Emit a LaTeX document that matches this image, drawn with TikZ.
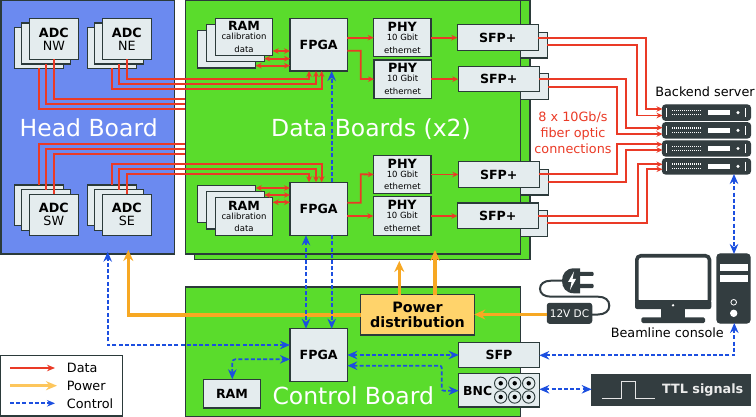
\documentclass[tikz,border=0pt]{standalone}
\usepackage{fontspec}
\setmainfont{DejaVu Sans}
\usepackage{tikz}
\usetikzlibrary{calc}
\usetikzlibrary{arrows.meta}
\definecolor{headblue}{HTML}{6B8AF0}
\definecolor{boardgreen}{HTML}{5ADC2C}
\definecolor{edgedark}{HTML}{2B3A3A}
\definecolor{blockgrey}{HTML}{E4ECEE}
\definecolor{icondark}{HTML}{333D40}
\definecolor{datared}{HTML}{EA3A26}
\definecolor{powerorange}{HTML}{F7A823}
\definecolor{powerpale}{HTML}{FDC65C}
\definecolor{ctrlblue}{HTML}{1C4FE0}
\definecolor{powerbox}{HTML}{FFD36B}
\newcommand{\fnt}[2]{\fontsize{#1}{#2}\selectfont}
\tikzset{
  block/.style={draw=edgedark,fill=blockgrey,line width=1.1pt,inner sep=0pt,outer sep=0pt,align=center},
  headboard/.style={block,fill=headblue},
  greenboard/.style={block,fill=boardgreen},
  powerblock/.style={block,fill=powerbox},
  darkblock/.style={block,draw=icondark,fill=icondark,rounded corners=2.5pt,text=white},
  serverblock/.style={block,draw=icondark,fill=icondark,rounded corners=3pt},
  bigtext/.style={text=white,font=\fnt{23.5}{26}},
  plaintext/.style={font=\fnt{12.8}{16},inner sep=0pt},
  datalink/.style={draw=datared,line width=1.8pt,-{Stealth[length=6pt,width=5.5pt]}},
  databoth/.style={datalink,{Stealth[length=6pt,width=5.5pt]}-{Stealth[length=6pt,width=5.5pt]}},
  dataplain/.style={draw=datared,line width=1.8pt},
  powerlink/.style={draw=powerorange,line width=3.2pt,-{Stealth[length=11pt,width=10pt]}},
  ctrllink/.style={draw=ctrlblue,line width=1.7pt,dash pattern=on 4pt off 2.2pt,{Stealth[length=10pt,width=8.5pt]}-{Stealth[length=10pt,width=8.5pt]}},
  ctrlone/.style={draw=ctrlblue,line width=1.7pt,dash pattern=on 4pt off 2.2pt,-{Stealth[length=10pt,width=8.5pt]}}
}
% box given by its corners: [style]{name}{x1}{y1}{x2}{y2}{text}
\newcommand{\blocknode}[7][block]{\node[#1,minimum width={(#5-#3)*1pt},minimum height={(#6-#4)*1pt}] (#2) at ({(#3+#5)/2},{(#4+#6)/2}) {#7};}
\newcommand{\adctext}[1]{\fnt{12.7}{17}\textbf{ADC}\\[1pt]\fnt{12.7}{17}#1}
\newcommand{\ramtext}{\fnt{12.6}{10.5}\textbf{RAM}\\[-3pt]\fnt{8.5}{10.7}calibration\\[0.5pt]\fnt{8.5}{10.7}data}
\newcommand{\phytext}{\fnt{12.7}{10.5}\textbf{PHY}\\[-3pt]\fnt{8.5}{10.7}10 Gbit\\[0.5pt]\fnt{8.5}{10.7}ethernet}
\newcommand{\boldtext}[1]{\fnt{12.6}{15}\textbf{#1}}
% one rack unit: {name}{y1}{y2}
\newcommand{\serverunit}[3]{
  \blocknode[serverblock]{#1}{662.5}{#2}{750.5}{#3}{}
  \draw[white,line width=1.2pt] (666.8,{#2+3}) -- (666.8,{#3-3});
  \draw[white,line width=1.3pt,dash pattern=on 1pt off 1pt] (672,{(#2+#3)/2-2.2}) -- (702,{(#2+#3)/2-2.2});
  \draw[white,line width=1.3pt,dash pattern=on 1pt off 1pt] (672,{(#2+#3)/2+2.2}) -- (702,{(#2+#3)/2+2.2});
  \fill[white] (707.7,{(#2+#3)/2-2.6}) rectangle (730,{(#2+#3)/2+2.6});
  \fill[white] (738,{(#2+#3)/2}) circle (1.7pt);
  \draw[white,line width=1.2pt] (745.8,{#2+3}) -- (745.8,{#3-3});
}
\newcommand{\bncjack}[2]{
  \draw[edgedark,line width=0.9pt] (#1,#2) circle (6.2pt);
  \fill[black] (#1,#2) circle (2.2pt);
}

\begin{document}
\begin{tikzpicture}[x=1pt,y=-1pt]
    \useasboundingbox (0,0) rectangle (756,417);

    %boards
    \blocknode[greenboard]{databack}{194.7}{0.5}{530}{259.3}{}
    \blocknode{sfpbacka}{466}{32.7}{547.3}{58}{}
    \blocknode{sfpbackb}{467}{73.7}{548.3}{99.3}{}
    \blocknode{sfpbackc}{467}{169.3}{548.3}{195}{}
    \blocknode{sfpbackd}{466}{210.3}{547.3}{236.3}{}
    \blocknode[greenboard]{databoard}{185.3}{0.5}{520.7}{254}{}
    \blocknode[headboard]{headboard}{1}{0.5}{174.5}{254}{}
    \blocknode[greenboard]{ctrlboard}{185.3}{287}{520.7}{416.3}{}
    \node[bigtext] (headlabel) at (88.7,128) {Head Board};
    \node[bigtext] (datalabel) at (371,129) {Data Boards (x2)};
    \node[bigtext] (ctrllabel) at (353.3,396) {Control Board};

    %adc stacks
    \blocknode{adcnwa}{14.3}{27.7}{63.3}{68.3}{}
    \blocknode{adcnwb}{21.7}{23}{70.7}{64}{}
    \blocknode{adcnwc}{29.3}{18.3}{78.3}{59.3}{\adctext{NW}}
    \blocknode{adcnea}{87.3}{27.7}{136.3}{68.3}{}
    \blocknode{adcneb}{94.7}{23}{143.7}{64}{}
    \blocknode{adcnec}{102.3}{18.3}{151.3}{59.3}{\adctext{NE}}
    \blocknode{adcswa}{14.3}{185}{63.3}{225.3}{}
    \blocknode{adcswb}{21.7}{189.7}{70.7}{230.3}{}
    \blocknode{adcswc}{29.3}{194.3}{78.3}{235.3}{\adctext{SW}}
    \blocknode{adcsea}{87.3}{185}{136.3}{225.3}{}
    \blocknode{adcseb}{94.7}{189.7}{143.7}{230.3}{}
    \blocknode{adcsec}{102.3}{194.3}{151.3}{235.3}{\adctext{SE}}

    %ram stacks
    \blocknode{ramta}{197.7}{30.7}{255.7}{68}{}
    \blocknode{ramtb}{206.7}{24.3}{264.3}{61.7}{}
    \blocknode{ramtc}{215.3}{18.3}{272.7}{55.3}{\ramtext}
    \blocknode{ramba}{197.7}{185.7}{255.7}{222.7}{}
    \blocknode{rambb}{206.7}{191.7}{264.3}{229}{}
    \blocknode{rambc}{215.3}{197.7}{272.7}{235.3}{\ramtext}

    %fpga, phy and sfp
    \blocknode{fpgatop}{290}{18.3}{347.3}{71}{\boldtext{FPGA}}
    \blocknode{fpgabot}{290}{182.3}{347.3}{235.3}{\boldtext{FPGA}}
    \blocknode{fpgactrl}{290}{328.7}{347.3}{381.3}{\boldtext{FPGA}}
    \blocknode{phya}{373.7}{18.7}{431}{56.7}{\phytext}
    \blocknode{phyb}{374}{60}{431.3}{98.3}{\phytext}
    \blocknode{phyc}{373.7}{155.3}{431}{193.7}{\phytext}
    \blocknode{phyd}{373.3}{196.7}{431}{235.3}{\phytext}
    \blocknode{sfpa}{457.3}{24.7}{538.3}{50.3}{\boldtext{SFP+}}
    \blocknode{sfpb}{458.3}{66.3}{539.3}{91.7}{\boldtext{SFP+}}
    \blocknode{sfpc}{458.3}{161.7}{539.3}{187.3}{\boldtext{SFP+}}
    \blocknode{sfpd}{457.3}{203}{538.3}{228.7}{\boldtext{SFP+}}
    \blocknode{ramctrl}{203.3}{379.3}{260.7}{408}{\boldtext{RAM}}
    \blocknode{sfpctrl}{458.7}{342.7}{539.3}{367.7}{\boldtext{SFP}}
    \blocknode{bncctrl}{458.7}{373.3}{539.3}{407}{}
    \node[font=\fnt{12.4}{15}\bfseries,inner sep=0pt] (bnclabel) at (477.7,391) {BNC};
    \bncjack{500.7}{383.3} \bncjack{514.7}{383.3} \bncjack{528.7}{383.3}
    \bncjack{500.7}{397} \bncjack{514.7}{397} \bncjack{528.7}{397}
    \blocknode[powerblock]{powerdist}{360.7}{294.7}{474.3}{335}{\fnt{14.3}{16.5}\textbf{Power}\\[2.5pt]\fnt{14.3}{16.5}\textbf{distribution}}

    %servers and labels
    \serverunit{srva}{105}{120.3}
    \serverunit{srvb}{122.7}{138}
    \serverunit{srvc}{141}{156}
    \serverunit{srvd}{158.7}{174}
    \node[plaintext] (srvlabel) at (705,92) {Backend server};
    \node[plaintext,text=datared,align=center,font=\fnt{12.8}{16}] (fibrelabel) at (573,132.5) {8 x 10Gb/s\\fiber optic\\connections};
    \node[plaintext] (consolelabel) at (667.3,332.5) {Beamline console};

    %console
    \draw[icondark,fill=white,line width=3.6pt,rounded corners=4pt] (636.8,255.8) rectangle (709.5,304);
    \fill[icondark,rounded corners=2pt] (635,300) rectangle (711.3,309);
    \fill[white] (673,305.3) circle (1.3pt);
    \fill[icondark] (661.3,309) rectangle (685,318);
    \fill[icondark,rounded corners=1.5pt] (641.3,317.3) rectangle (705,323);
    \blocknode[serverblock]{tower}{717}{254}{750}{323}{}
    \fill[white] (720,264) rectangle (747.7,271.3);
    \fill[white] (720,274.7) rectangle (747.7,282);
    \draw[white,line width=0.8pt] (733.7,302.3) circle (2.8pt);
    \fill[white] (733.7,313.3) circle (3.7pt);

    %plug and supply
    \blocknode[darkblock]{supply}{547.3}{303.3}{591.7}{323.3}{\fnt{10.5}{12}12V DC}
    \draw[icondark,line width=2pt,line cap=round] (562,280.7) -- (551,280.7) .. controls (544,280.7) and (540,284) .. (540,288.7) .. controls (540,293.5) and (544,296.7) .. (551,296.7) -- (598,296.7) .. controls (605,296.7) and (609.3,300) .. (609.3,305.7) .. controls (609.3,311) and (605,314.5) .. (598,314.5) -- (supply.east |- 0,314.5);
    \fill[icondark] (580,268.3) -- (574,268.3) .. controls (566,268.3) and (562,274) .. (562,280.8) .. controls (562,287.6) and (566,293.3) .. (574,293.3) -- (580,293.3) -- cycle;
    \fill[icondark,rounded corners=1pt] (579,272) rectangle (593.5,276);
    \fill[icondark,rounded corners=1pt] (579,284) rectangle (593.5,288);
    \fill[white] (574,271.5) -- (568,282) -- (571.5,282) -- (570,290) -- (576,279) -- (572.5,279) -- cycle;

    %ttl
    \blocknode[block,draw=icondark,fill=icondark]{ttlbox}{591.7}{374.7}{750}{405.7}{}
    \draw[white!90!black,line width=1.1pt] (602.3,398.7) -- (621.7,398.7) -- (621.7,381.7) -- (635.7,381.7) -- (635.7,398.7) -- (655.3,398.7);
    \node[font=\fnt{12.8}{15}\bfseries,text=white!92!black,inner sep=0pt] (ttllabel) at (702.7,390.5) {TTL signals};

    %adc links
    \draw[dataplain] (adcnwa.south) |- (databoard.west |- 0,108.7);
    \draw[dataplain] (adcnwb.south) |- (databoard.west |- 0,103.7);
    \draw[dataplain] (adcnwc.south) |- (databoard.west |- 0,98.7);
    \draw[dataplain] (adcswa.north) |- (databoard.west |- 0,144.3);
    \draw[dataplain] (adcswb.north) |- (databoard.west |- 0,149.3);
    \draw[dataplain] (adcswc.north) |- (databoard.west |- 0,154.3);
    \draw[datalink] (adcnec.south) |- (309,79) -- (309,71);
    \draw[datalink] (adcneb.south) |- (316,84) -- (316,71);
    \draw[datalink] (adcnea.south) |- (321.7,89) -- (321.7,71);
    \draw[datalink] (adcsea.north) |- (321.7,164.3) -- (321.7,182.3);
    \draw[datalink] (adcseb.north) |- (316,169.3) -- (316,182.3);
    \draw[datalink] (adcsec.north) |- (309,174.3) -- (309,182.3);

    %ram links
    \draw[databoth] (ramtc.east |- 0,51) -- (fpgatop.west |- 0,51);
    \draw[databoth] (ramtb.east |- 0,58.7) -- (fpgatop.west |- 0,58.7);
    \draw[databoth] (ramta.east |- 0,65.7) -- (fpgatop.west |- 0,65.7);
    \draw[databoth] (ramba.east |- 0,188) -- (fpgabot.west |- 0,188);
    \draw[databoth] (rambb.east |- 0,195) -- (fpgabot.west |- 0,195);
    \draw[databoth] (rambc.east |- 0,202.3) -- (fpgabot.west |- 0,202.3);

    %phy links
    \draw[datalink] (fpgatop.east |- phya.west) -- (phya.west);
    \draw[datalink] (fpgatop.east |- 0,50.7) -- (360.7,50.7) -- (360.7,79) -- (phyb.west);
    \draw[datalink] (fpgabot.east |- 0,202.7) -- (360.7,202.7) -- (360.7,174.3) -- (phyc.west);
    \draw[datalink] (fpgabot.east |- phyd.west) -- (phyd.west);
    \draw[datalink] (phya.east) -- (sfpa.west |- phya.east);
    \draw[datalink] (phyb.east) -- (sfpb.west |- phyb.east);
    \draw[datalink] (phyc.east) -- (sfpc.west |- phyc.east);
    \draw[datalink] (phyd.east) -- (sfpd.west |- phyd.east);

    %fibers
    \draw[datalink] (sfpa.east |- 0,37.7) -- (646,37.7) -- (646,109) -- (srva.west |- 0,109);
    \draw[datalink] (sfpbacka.east |- 0,45) -- (637.3,45) -- (637.3,115.5) -- (srva.west |- 0,115.5);
    \draw[datalink] (sfpb.east |- 0,79) -- (626,79) -- (626,127.7) -- (srvb.west |- 0,127.7);
    \draw[datalink] (sfpbackb.east |- 0,86.7) -- (616.7,86.7) -- (616.7,134) -- (srvb.west |- 0,134);
    \draw[datalink] (sfpc.east |- 0,174.3) -- (616.7,174.3) -- (616.7,144.3) -- (srvc.west |- 0,144.3);
    \draw[datalink] (sfpbackc.east |- 0,182) -- (626,182) -- (626,150) -- (srvc.west |- 0,150);
    \draw[datalink] (sfpd.east |- 0,215.7) -- (637.7,215.7) -- (637.7,164.3) -- (srvd.west |- 0,164.3);
    \draw[datalink] (sfpbackd.east |- 0,223.3) -- (646.7,223.3) -- (646.7,169.3) -- (srvd.west |- 0,169.3);

    %power links
    \coordinate (headpower) at (128.3,250);
    \coordinate (backpower) at (399.3,261);
    \coordinate (frontpower) at (435,250);
    \draw[powerlink] (powerdist.west |- 0,315) -| (headpower);
    \draw[powerlink] (backpower |- powerdist.north) -- (backpower);
    \draw[powerlink] (frontpower |- powerdist.north) -- (frontpower);
    \draw[powerlink] (supply.west |- 0,314.5) -- (powerdist.east |- 0,314.5);

    %control links
    \coordinate (headctrl) at (107.7,251.7);
    \draw[ctrllink] (fpgactrl.west |- 0,345) -| (headctrl);
    \draw[ctrllink] (fpgabot.south -| 306,0) -- (fpgactrl.north -| 306,0);
    \draw[ctrlone] (fpgabot.north -| 331.7,0) -- (fpgatop.south -| 331.7,0);
    \draw[ctrlone] (fpgabot.south -| 331.7,0) -- (fpgactrl.north -| 331.7,0);
    \draw[ctrllink,rounded corners=3pt] (ramctrl.north -| 232.3,0) |- (fpgactrl.west |- 0,359.3);
    \draw[ctrllink] (fpgactrl.east |- 0,355) -- (sfpctrl.west |- 0,355);
    \draw[ctrllink,rounded corners=2pt] (fpgactrl.east |- 0,365.7) -- (441.7,365.7) -- (441.7,390.7) -- (bncctrl.west |- 0,390.7);
    \draw[ctrllink] (srvd.south -| 734,0) -- (tower.north -| 734,0);
    \draw[ctrllink] (tower.south -| 734.3,0) |- (sfpctrl.east |- 0,355.3);
    \draw[ctrllink] (bncctrl.east |- 0,389.3) -- (ttlbox.west |- 0,389.3);

    %legend
    \blocknode[block,fill=white]{legendbox}{0.7}{355.7}{122.3}{416}{}
    \coordinate (legda) at (10,368);
    \coordinate (legdb) at (55,368);
    \coordinate (legpa) at (10,385.7);
    \coordinate (legpb) at (57,385.7);
    \coordinate (legca) at (10,403.3);
    \coordinate (legcb) at (55,403.3);
    \draw[datalink,-{Stealth[length=8pt,width=6.5pt]}] (legda) -- (legdb);
    \draw[powerlink,draw=powerpale,-{Stealth[length=11pt,width=9pt]}] (legpa) -- (legpb);
    \draw[ctrlone,-{Stealth[length=8pt,width=6.5pt]}] (legca) -- (legcb);
    \node[plaintext,anchor=base west] (legdata) at (66.7,372.5) {Data};
    \node[plaintext,anchor=base west] (legpower) at (66.7,390) {Power};
    \node[plaintext,anchor=base west] (legctrl) at (66.7,408) {Control};
\end{tikzpicture}
\end{document}
